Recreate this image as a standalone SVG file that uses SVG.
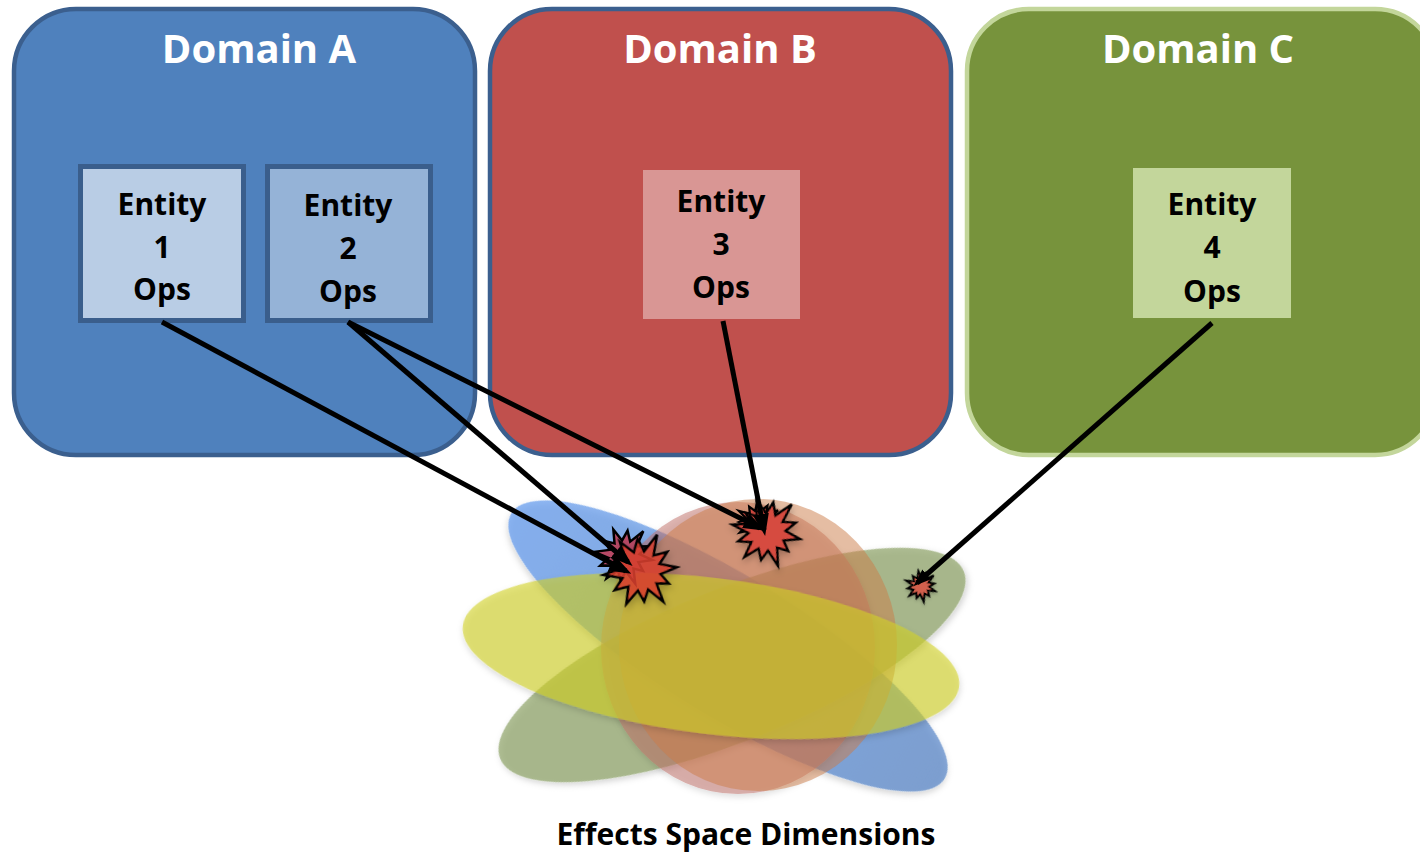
<svg xmlns="http://www.w3.org/2000/svg" width="1420" height="854" viewBox="0 0 1420 854">
<defs>
<style>
.dom{stroke-width:4.5}
.title{font-family:"Open Sans","Noto Sans",sans-serif;font-weight:bold;font-size:40px;fill:#ffffff;text-anchor:middle}
.ent{font-family:"Open Sans","Noto Sans",sans-serif;font-weight:bold;font-size:30px;fill:#000000;text-anchor:middle}
.cap{font-family:"Open Sans","Noto Sans",sans-serif;font-weight:bold;font-size:30px;fill:#000000;text-anchor:middle}
.conn{stroke:#000;stroke-width:5;fill:none;marker-end:url(#ah)}
.star{stroke:#000;stroke-linejoin:miter}
</style>
<linearGradient id="blueG" x1="0" y1="0" x2="1" y2="0">
<stop offset="0" stop-color="#5b96ee"/>
<stop offset="1" stop-color="#4f80c4"/>
</linearGradient>
<marker id="ah" markerUnits="userSpaceOnUse" viewBox="0 0 22 16" markerWidth="22" markerHeight="16" refX="16" refY="8" orient="auto">
<path d="M0,0 L22,8 L0,16 z" fill="#000"/>
</marker>
<marker id="ahs" markerUnits="userSpaceOnUse" viewBox="0 0 22 16" markerWidth="18" markerHeight="13" refX="16" refY="8" orient="auto">
<path d="M0,0 L22,8 L0,16 z" fill="#000"/>
</marker>
<filter id="sh" x="-20%" y="-20%" width="140%" height="140%">
<feDropShadow dx="1" dy="3" stdDeviation="3" flood-color="#000" flood-opacity="0.25"/>
</filter>
<polygon id="starP" points="30,0 15.9,4.3 22,12.8 11.7,11.7 15.8,27.3 4.3,15.9 0,25.5 -4.3,15.9 -15,26 -11.7,11.7 -23.4,13.5 -15.9,4.3 -31.5,0 -15.9,-4.3 -22,-12.8 -11.7,-11.7 -15,-26 -4.3,-15.9 0,-27 4.3,-15.9 16.5,-28.6 11.7,-11.7 23.4,-13.5 15.9,-4.3"/>
</defs>
<rect width="1420" height="854" fill="#ffffff"/>

<g id="domainA">
<rect class="dom" x="14" y="9" width="461" height="446" rx="62" fill="#4f81bd" stroke="#3b5f8e"/>
<text class="title" x="259" y="63">Domain A</text>
</g>
<g id="domainB">
<rect class="dom" x="490" y="9" width="461" height="446" rx="62" fill="#c0504d" stroke="#3b5f8e"/>
<text class="title" x="720" y="63">Domain B</text>
</g>
<g id="domainC">
<rect class="dom" x="967" y="9" width="470" height="446" rx="62" fill="#77933c" stroke="#c3d69b"/>
<text class="title" x="1198" y="63">Domain C</text>
</g>

<g id="entity1">
<rect x="80.5" y="166.5" width="163" height="154" fill="#b9cde5" stroke="#3a5e8c" stroke-width="5"/>
<text class="ent" x="162" y="215">Entity</text>
<text class="ent" x="162" y="258">1</text>
<text class="ent" x="162" y="300">Ops</text>
</g>
<g id="entity2">
<rect x="267.5" y="166.5" width="163" height="154" fill="#95b3d7" stroke="#3a5e8c" stroke-width="5"/>
<text class="ent" x="348" y="216">Entity</text>
<text class="ent" x="348" y="259">2</text>
<text class="ent" x="348" y="302">Ops</text>
</g>
<g id="entity3">
<rect x="643" y="170" width="157" height="149" fill="#d99694"/>
<text class="ent" x="721" y="212">Entity</text>
<text class="ent" x="721" y="255">3</text>
<text class="ent" x="721" y="298">Ops</text>
</g>
<g id="entity4">
<rect x="1133" y="168" width="158" height="150" fill="#c3d69b"/>
<text class="ent" x="1212" y="215">Entity</text>
<text class="ent" x="1212" y="258">4</text>
<text class="ent" x="1212" y="302">Ops</text>
</g>

<g id="effects-space">
<ellipse cx="728" cy="646" rx="254" ry="70" transform="rotate(31.5 728 646)" fill="url(#blueG)" fill-opacity="0.68" filter="url(#sh)"/>
<ellipse cx="732" cy="665" rx="250" ry="76" transform="rotate(-22 732 665)" fill="#8fa46a" fill-opacity="0.7" filter="url(#sh)"/>
<ellipse cx="738" cy="648" rx="137" ry="146" fill="#c2706a" fill-opacity="0.5" filter="url(#sh)"/>
<ellipse cx="758" cy="645" rx="139" ry="146" fill="#cc7c48" fill-opacity="0.5"/>
<ellipse cx="711" cy="656" rx="250" ry="78" transform="rotate(7 711 656)" fill="#d2d22a" fill-opacity="0.6" filter="url(#sh)"/>
<text class="cap" x="746" y="845">Effects Space Dimensions</text>
</g>

<g id="impacts">
<use href="#starP" class="star" transform="translate(624 556) rotate(8) scale(0.95)" fill="#b84a66" stroke-width="2.6"/>
<use href="#starP" class="star" transform="translate(641 571) rotate(-6) scale(1.2)" fill="#d9412f" fill-opacity="0.85" stroke-width="2.1" filter="url(#sh)"/>
<use href="#starP" class="star" transform="translate(758 522) rotate(30) scale(0.7)" fill="#d64b40" stroke-width="3.2"/>
<use href="#starP" class="star" transform="translate(767 532) rotate(12) scale(1.12)" fill="#d64b40" stroke-width="2.2" filter="url(#sh)"/>
<use href="#starP" class="star" transform="translate(921 586) rotate(20) scale(0.5)" fill="#d2604e" stroke-width="4" filter="url(#sh)"/>
</g>

<g id="connectors">
<line class="conn" x1="162" y1="322" x2="626" y2="571"/>
<line class="conn" x1="348" y1="322" x2="628" y2="562"/>
<line class="conn" x1="348" y1="322" x2="760" y2="528"/>
<line class="conn" x1="723" y1="321" x2="764" y2="530"/>
<line class="conn" x1="1212" y1="323" x2="917" y2="583" stroke-width="4" style="marker-end:url(#ahs)"/>
</g>
</svg>
